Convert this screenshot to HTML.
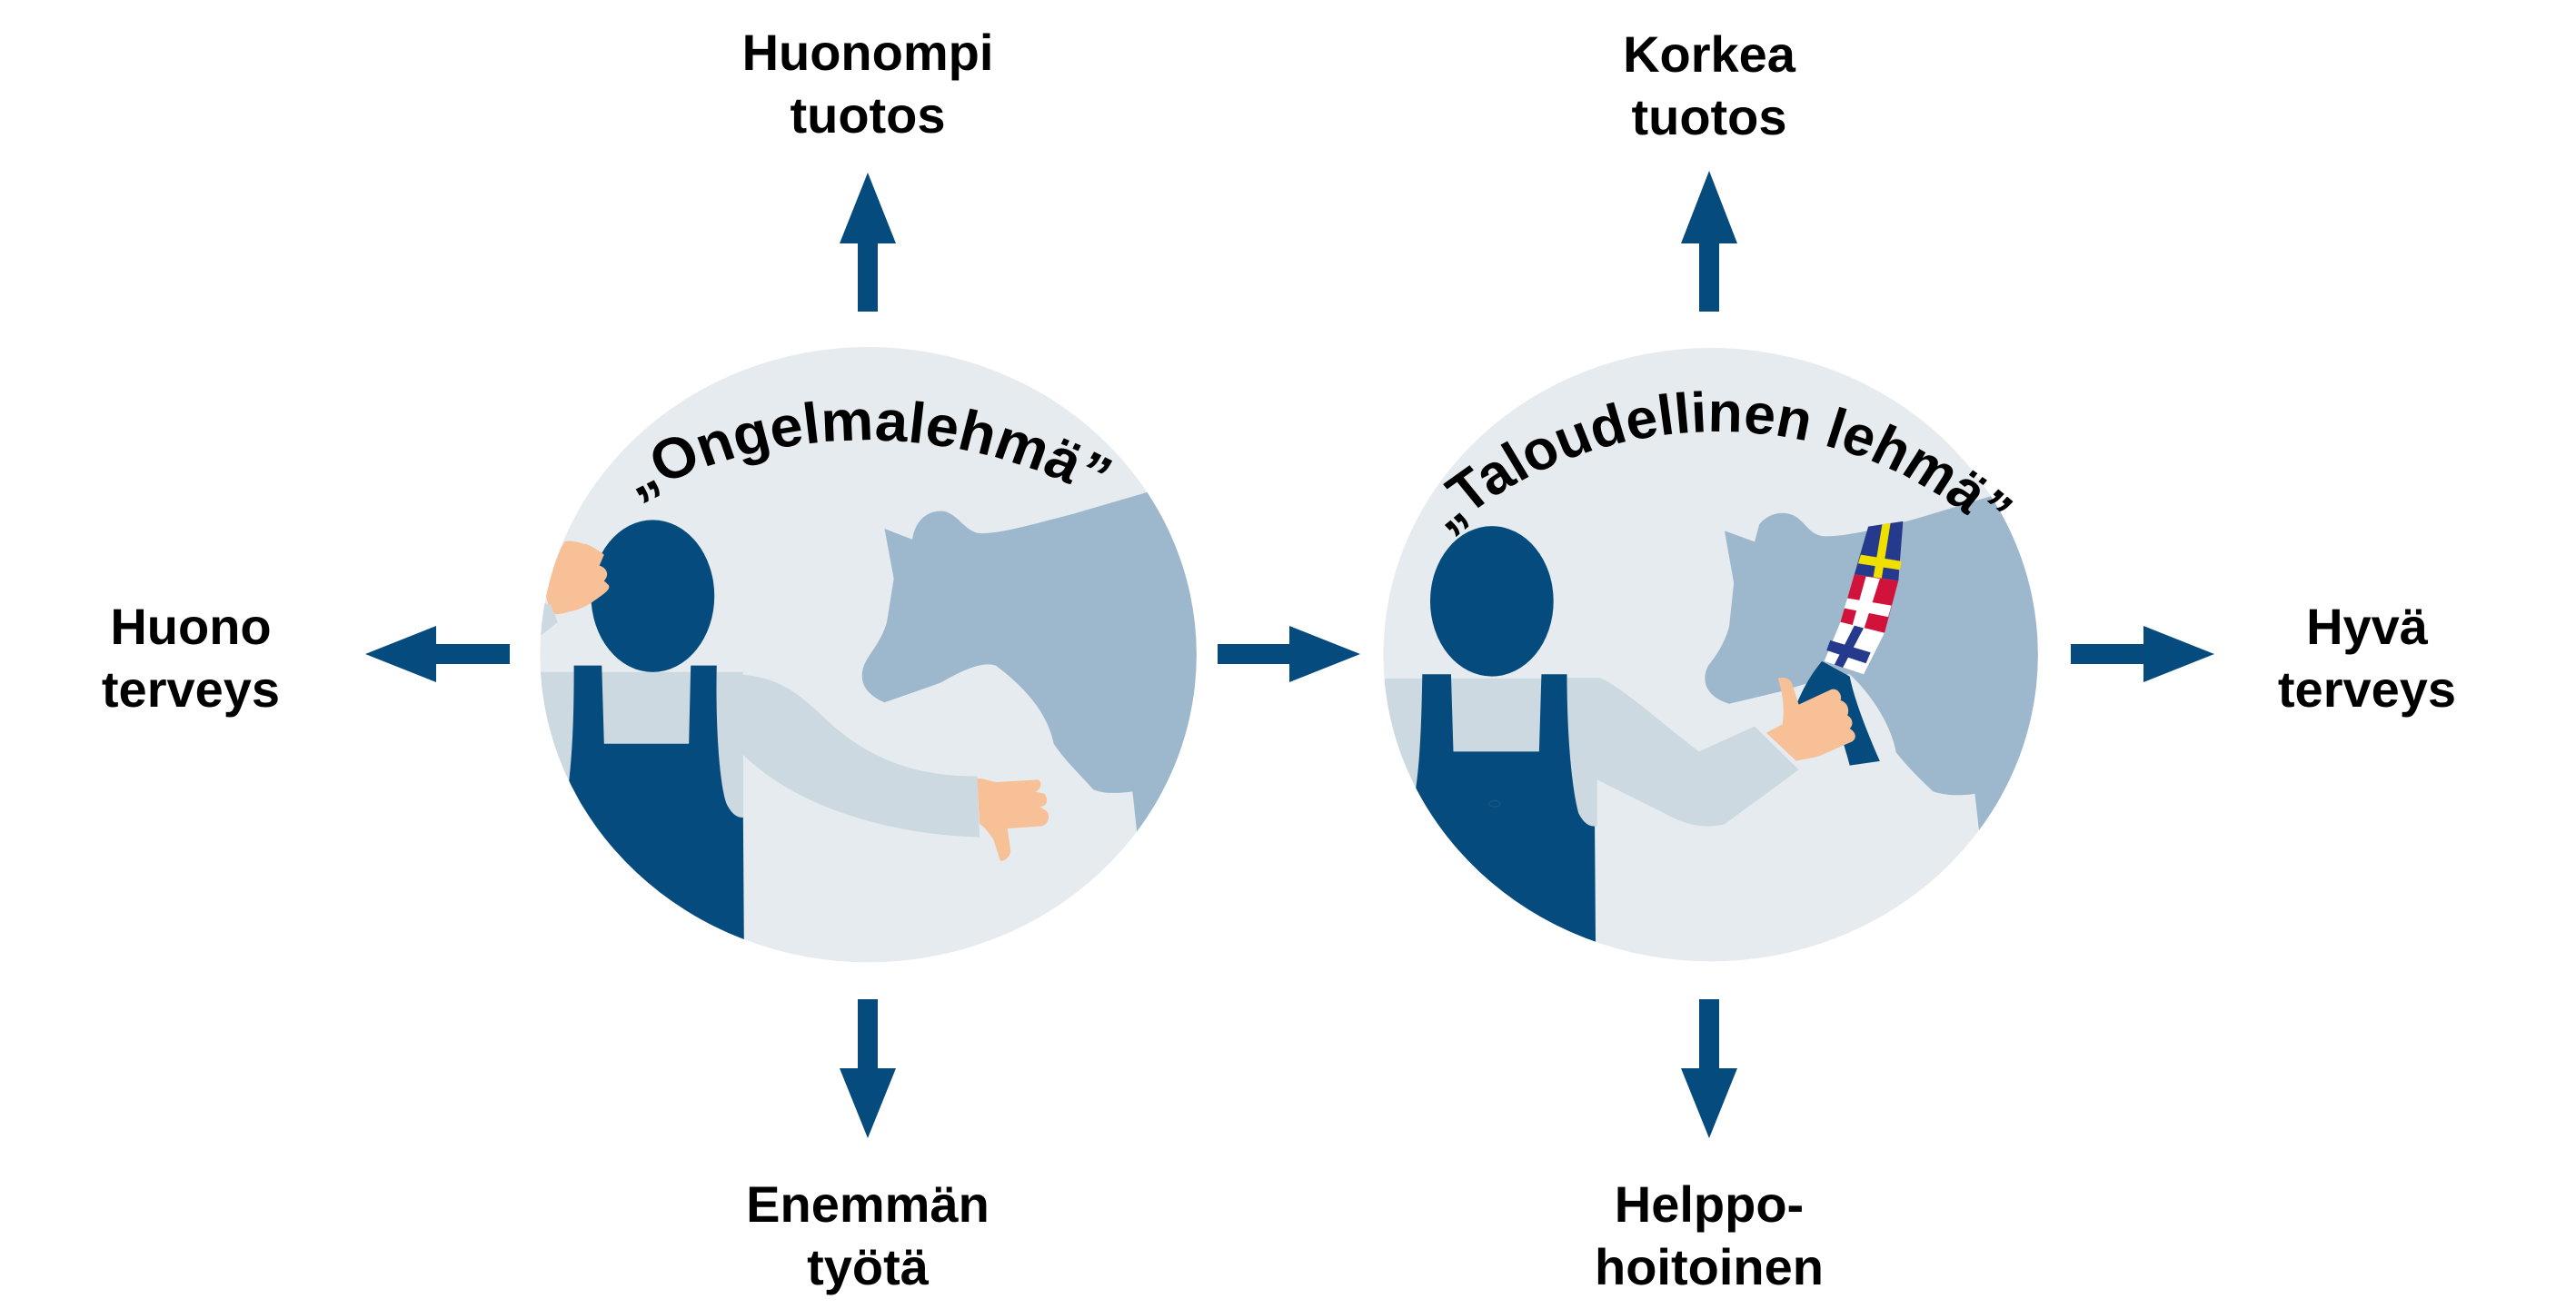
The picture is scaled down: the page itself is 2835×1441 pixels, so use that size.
<!DOCTYPE html>
<html><head><meta charset="utf-8"><style>
html,body{margin:0;padding:0;background:#fff;}
svg{display:block}
.t{font-family:"Liberation Sans",sans-serif;font-weight:bold;font-size:56px;fill:#000;text-anchor:middle}
.a{font-family:"Liberation Sans",sans-serif;font-weight:bold;fill:#000}
</style></head><body>
<svg width="2835" height="1441" viewBox="0 0 2835 1441" xmlns="http://www.w3.org/2000/svg">
<defs>
<clipPath id="c1"><circle cx="795" cy="775" r="708"/></clipPath>
<clipPath id="c2"><circle cx="750" cy="775" r="706"/></clipPath>
<path id="arc1" d="M 220 460 A 999 999 0 0 1 1360 460"/>
<path id="arc2" d="M 120 560 A 846 846 0 0 1 1410 560"/>
</defs>
<g fill="#064b7e">
<polygon points="955,190 986,268 966,268 966,343 944,343 944,268 924,268"/>
<polygon points="1881,188 1912,268 1892,268 1892,343 1870,343 1870,268 1850,268"/>
<polygon points="955,1253 986,1176 966,1176 966,1100 944,1100 944,1176 924,1176"/>
<polygon points="1881,1253 1912,1176 1892,1176 1892,1100 1870,1100 1870,1176 1850,1176"/>
<polygon points="402,720 480,689 480,709 561,709 561,731 480,731 480,751"/>
<polygon points="1497,720 1419,689 1419,709 1340,709 1340,731 1419,731 1419,751"/>
<polygon points="2437,720 2359,689 2359,709 2279,709 2279,731 2359,731 2359,751"/>
</g>
<text class="t" x="955" y="77">Huonompi</text><text class="t" x="955" y="146">tuotos</text>
<text class="t" x="1881" y="79">Korkea</text><text class="t" x="1881" y="148">tuotos</text>
<text class="t" x="210" y="709">Huono</text><text class="t" x="210" y="778">terveys</text>
<text class="t" x="2605" y="709">Hyvä</text><text class="t" x="2605" y="778">terveys</text>
<text class="t" x="955" y="1345">Enemmän</text><text class="t" x="955" y="1414">työtä</text>
<text class="t" x="1881" y="1345">Helppo-</text><text class="t" x="1881" y="1414">hoitoinen</text>

<g transform="translate(550,350) scale(0.5102,0.4783)">
<circle cx="795" cy="775" r="708" fill="#e5ebee"/>
<g clip-path="url(#c1)">
<path fill="#9db8cc" d="M1400,400 L1240,450 C1150,475 1070,500 1030,495 C1000,485 990,455 960,445 C920,440 895,470 890,510 L830,485 L850,600 L835,700 C825,740 800,770 790,790 C775,820 775,860 830,885 L950,840 C1000,810 1040,790 1070,800 C1120,840 1180,900 1195,980 C1220,1020 1260,1060 1280,1085 C1300,1095 1330,1095 1365,1090 L1375,1190 L1600,1200 L1600,380 Z"/>
<rect x="80" y="815" width="445" height="340" fill="#cdd9e0"/>
<path fill="#cdd9e0" d="M470,820 C600,815 640,860 720,940 C820,1030 920,1055 1030,1055 L1035,1195 C850,1190 640,1130 520,1000 Z"/>
<path fill="#064b7e" d="M160,800 L220,800 L225,980 L408,980 L412,800 L468,800 C465,950 475,1080 490,1120 C500,1140 510,1150 525,1150 L527,1460 L100,1460 L150,1060 C158,980 160,900 160,800 Z"/>
<ellipse cx="330" cy="640" rx="133" ry="175" fill="#064b7e"/>
<path fill="#f7c096" d="M140,515 C160,510 175,520 185,520 C200,525 220,540 225,545 L215,570 C230,575 238,590 225,605 L235,615 C240,625 225,635 205,650 C190,662 175,670 155,675 C135,680 120,685 110,680 L100,640 C110,590 125,540 140,515 Z"/>
<path fill="#cdd9e0" d="M70,650 L110,660 L125,700 L90,730 L60,740 Z"/>
<path fill="#f7c096" d="M1030,1060 C1050,1060 1065,1070 1075,1068 L1160,1063 C1170,1065 1170,1085 1155,1090 L1175,1095 C1185,1110 1180,1125 1165,1125 L1180,1135 C1190,1150 1180,1170 1165,1170 L1095,1175 L1102,1225 C1102,1240 1090,1250 1080,1250 L1065,1200 C1055,1185 1045,1170 1035,1165 Z"/>
</g>
<text class="a" font-size="132"><textPath href="#arc1" startOffset="50%" text-anchor="middle" textLength="1040" lengthAdjust="spacingAndGlyphs">„Ongelmalehmä”</textPath></text>
</g>

<g transform="translate(1500,350) scale(0.5102,0.4783)">
<circle cx="750" cy="775" r="706" fill="#e5ebee"/>
<g clip-path="url(#c2)">
<path fill="#9db8cc" d="M1355,410 L1200,460 C1100,490 1030,505 990,502 C960,495 955,470 930,455 C900,440 870,455 855,475 L845,515 L780,490 L800,610 L790,710 C780,750 760,780 745,800 C730,830 735,870 790,888 L900,860 C960,840 1010,825 1050,820 C1100,870 1140,940 1150,1000 C1180,1040 1210,1070 1230,1090 C1260,1100 1290,1100 1320,1095 L1330,1190 L1600,1200 L1600,380 Z"/>
<rect x="30" y="830" width="475" height="340" fill="#cdd9e0"/>
<path fill="#cdd9e0" d="M440,828 L510,828 C560,850 640,930 725,998 L845,940 L940,1040 L780,1165 C740,1175 700,1170 650,1140 L500,1060 Z"/>
<path fill="#064b7e" d="M128,820 L190,820 L195,998 L380,998 L385,820 L440,820 C440,960 450,1080 465,1140 C475,1160 485,1170 500,1170 L502,1470 L60,1470 L110,1110 C122,1040 126,950 128,820 Z"/>
<ellipse cx="278" cy="652" rx="133" ry="173" fill="#064b7e"/>
<polygon fill="#263a8d" points="1090,480 1165,468 1155,605 1060,590"/>
<polygon fill="#f0e000" points="1120,475 1138,472 1118,605 1100,602"/>
<polygon fill="#f0e000" points="1074,545 1162,560 1158,580 1068,565"/>
<polygon fill="#d1133b" points="1060,590 1155,605 1125,725 1030,700"/>
<polygon fill="#ffffff" points="1085,595 1115,600 1080,718 1055,710"/>
<polygon fill="#ffffff" points="1045,645 1140,662 1133,688 1038,668"/>
<polygon fill="#ffffff" points="1030,700 1125,725 1080,820 995,790"/>
<polygon fill="#263a8d" points="1060,708 1080,714 1035,805 1017,798"/>
<polygon fill="#263a8d" points="1008,742 1095,770 1085,795 1000,765"/>
<path fill="#064b7e" d="M990,790 L1050,825 C1060,880 1090,960 1115,1020 L1050,1030 C1035,970 1020,920 1010,900 L935,890 C950,850 970,815 990,790 Z"/>
<path fill="#f7c096" d="M870,955 L905,935 C910,900 905,860 895,830 C905,825 920,828 925,840 L940,890 L1010,855 C1025,850 1035,870 1030,880 C1045,885 1050,900 1045,915 C1055,920 1060,935 1050,945 C1065,955 1065,968 1055,975 L985,1008 C965,1015 945,1015 935,1020 Z"/>
<ellipse cx="284" cy="1118" rx="12" ry="7" fill="none" stroke="#1c5a88" stroke-width="2"/>
</g>
<text class="a" font-size="130"><textPath href="#arc2" startOffset="50%" text-anchor="middle" textLength="1290" lengthAdjust="spacingAndGlyphs">„Taloudellinen lehmä”</textPath></text>
</g>
</svg>
</body></html>
